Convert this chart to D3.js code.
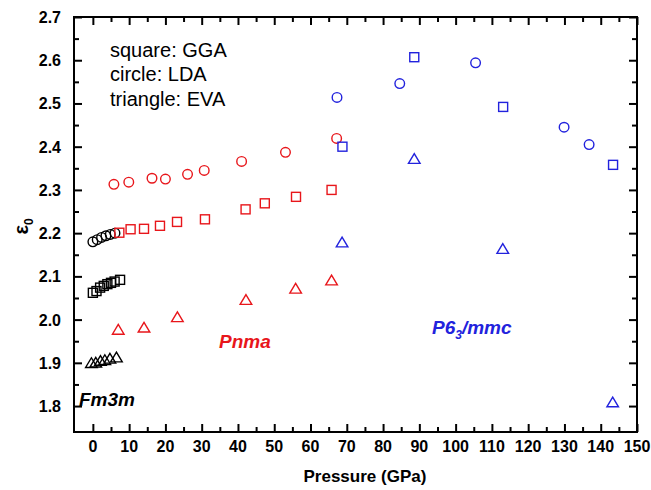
<!DOCTYPE html>
<html><head><meta charset="utf-8">
<script src="https://cdn.jsdelivr.net/npm/d3@7"></script>
<style>body{margin:0;background:#fff;} svg{display:block;} text{font-family:"Liberation Sans",Arial,Helvetica,sans-serif;}</style>
</head><body>
<svg id="c" width="651" height="490"></svg>
<script>
// ---- data ----
const fm3mLDA_P = [0, 1.2, 2.4, 3.6, 4.8, 6.1];
const fm3mLDA_E = [2.180, 2.185, 2.190, 2.194, 2.197, 2.200];
const fm3mGGA_P = [0, 1, 2, 3, 4, 5, 6, 7.5];
const fm3mGGA_E = [2.062, 2.066, 2.074, 2.078, 2.082, 2.085, 2.088, 2.092];
const fm3mEVA_P = [-0.4, 0.8, 2.1, 3.3, 4.7, 6.5];
const fm3mEVA_E = [1.899, 1.900, 1.904, 1.906, 1.909, 1.912];

const pnmaLDA_P = [5.8, 9.9, 16.3, 20.0, 26.1, 30.7, 41.0, 53.1, 67.2];
const pnmaLDA_E = [2.313, 2.318, 2.327, 2.325, 2.336, 2.345, 2.366, 2.387, 2.419];
const pnmaGGA_P = [7.3, 10.4, 14.1, 18.5, 23.2, 30.9, 42.1, 47.4, 56.0, 65.8];
const pnmaGGA_E = [2.201, 2.209, 2.210, 2.217, 2.226, 2.232, 2.255, 2.269, 2.284, 2.300];
const pnmaEVA_P = [7.0, 14.1, 23.3, 42.2, 55.9, 65.8];
const pnmaEVA_E = [1.976, 1.981, 2.005, 2.045, 2.071, 2.090];

const p63LDA_P = [67.3, 84.6, 105.5, 129.9, 136.8];
const p63LDA_E = [2.514, 2.546, 2.594, 2.445, 2.405];
const p63GGA_P = [68.8, 88.6, 113.1, 143.4];
const p63GGA_E = [2.400, 2.607, 2.492, 2.358];
const p63EVA_P = [68.7, 88.6, 113.0, 143.3];
const p63EVA_E = [2.178, 2.371, 2.163, 1.808];

const xTicks = [0,10,20,30,40,50,60,70,80,90,100,110,120,130,140,150];
const yTicks = [1.8,1.9,2.0,2.1,2.2,2.3,2.4,2.5,2.6,2.7];
const legendLines = ["square: GGA", "circle: LDA", "triangle: EVA"];
const xTitle = "Pressure (GPa)";

const RED = "#e8161b", BLUE = "#2222dd", BLACK = "#000";
const series = [
  {P: fm3mLDA_P, E: fm3mLDA_E, sym: "circle", color: BLACK},
  {P: fm3mGGA_P, E: fm3mGGA_E, sym: "square", color: BLACK},
  {P: fm3mEVA_P, E: fm3mEVA_E, sym: "triangle", color: BLACK},
  {P: pnmaLDA_P, E: pnmaLDA_E, sym: "circle", color: RED},
  {P: pnmaGGA_P, E: pnmaGGA_E, sym: "square", color: RED},
  {P: pnmaEVA_P, E: pnmaEVA_E, sym: "triangle", color: RED},
  {P: p63LDA_P, E: p63LDA_E, sym: "circle", color: BLUE},
  {P: p63GGA_P, E: p63GGA_E, sym: "square", color: BLUE},
  {P: p63EVA_P, E: p63EVA_E, sym: "triangle", color: BLUE}
];

// ---- layout ----
const L = 74, R = 637, T = 17, B = 432;
const x = d3.scaleLinear().domain([-5.2, 150]).range([L, R]);
const y = d3.scaleLinear().domain([1.74, 2.7]).range([B, T]);
const svg = d3.select("#c");

const xMinor = d3.range(5, 150, 10);
const yMinor = d3.range(1.85, 2.7, 0.1).map(v => +v.toFixed(2));

function tickGroup(axisGen, transform) {
  const g = svg.append("g").attr("transform", transform).call(axisGen);
  g.select(".domain").remove();
  g.selectAll("line").attr("stroke", "#000").attr("stroke-width", 2);
  return g;
}
// bottom
tickGroup(d3.axisTop(x).tickValues(xTicks).tickSize(8).tickFormat(""), `translate(0,${B})`);
tickGroup(d3.axisTop(x).tickValues(xMinor).tickSize(5).tickFormat(""), `translate(0,${B})`);
// top
tickGroup(d3.axisBottom(x).tickValues(xTicks).tickSize(8).tickFormat(""), `translate(0,${T})`);
tickGroup(d3.axisBottom(x).tickValues(xMinor).tickSize(5).tickFormat(""), `translate(0,${T})`);
// left
tickGroup(d3.axisRight(y).tickValues(yTicks).tickSize(8).tickFormat(""), `translate(${L},0)`);
tickGroup(d3.axisRight(y).tickValues(yMinor).tickSize(5).tickFormat(""), `translate(${L},0)`);
// right
tickGroup(d3.axisLeft(y).tickValues(yTicks).tickSize(8).tickFormat(""), `translate(${R},0)`);
tickGroup(d3.axisLeft(y).tickValues(yMinor).tickSize(5).tickFormat(""), `translate(${R},0)`);

// frame
svg.append("rect").attr("x", L).attr("y", T).attr("width", R - L).attr("height", B - T)
  .attr("fill", "none").attr("stroke", "#000").attr("stroke-width", 2);

// tick labels
svg.append("g").selectAll("text").data(xTicks).join("text")
  .attr("x", d => x(d)).attr("y", B + 20).attr("text-anchor", "middle")
  .attr("font-size", 16).attr("font-weight", "bold").text(d => d);
svg.append("g").selectAll("text").data(yTicks).join("text")
  .attr("x", L - 13).attr("y", d => y(d) + 6).attr("text-anchor", "end")
  .attr("font-size", 16).attr("font-weight", "bold").text(d => d.toFixed(1));

// axis titles
svg.append("text").attr("x", (x(0) + x(150)) / 2).attr("y", 482).attr("text-anchor", "middle")
  .attr("font-size", 17).attr("font-weight", "bold").text(xTitle);
const yt = svg.append("text").attr("transform", `translate(28,${(T + B) / 2 + 10}) rotate(-90)`)
  .attr("font-size", 20).attr("font-weight", "bold");
yt.append("tspan").text("ε");
yt.append("tspan").attr("font-size", 12).attr("dy", 5).text("0");

// markers
const plot = svg.append("g");
series.forEach(s => {
  const pts = s.P.map((p, i) => ({p, e: s.E[i]}));
  const g = plot.append("g").attr("fill", "none").attr("stroke", s.color).attr("stroke-width", 1.4);
  if (s.sym === "circle") {
    g.selectAll("circle").data(pts).join("circle")
      .attr("cx", d => x(d.p)).attr("cy", d => y(d.e)).attr("r", 4.8);
  } else if (s.sym === "square") {
    g.selectAll("rect").data(pts).join("rect")
      .attr("x", d => x(d.p) - 4.5).attr("y", d => y(d.e) - 4.5).attr("width", 9).attr("height", 9);
  } else {
    g.selectAll("path").data(pts).join("path")
      .attr("d", d => { const cx = x(d.p), cy = y(d.e);
        return `M${cx},${cy - 5.5}L${cx + 5.8},${cy + 4.2}L${cx - 5.8},${cy + 4.2}Z`; });
  }
});

// legend text
svg.append("g").selectAll("text").data(legendLines).join("text")
  .attr("x", 110).attr("y", (d, i) => 57 + i * 24.3).attr("font-size", 20).text(d => d);

// phase labels
svg.append("text").attr("x", 79).attr("y", 406).attr("font-size", 19).attr("font-weight", "bold")
  .attr("font-style", "italic").attr("fill", BLACK).text("Fm3m");
svg.append("text").attr("x", 219).attr("y", 348).attr("font-size", 19).attr("font-weight", "bold")
  .attr("font-style", "italic").attr("fill", RED).text("Pnma");
const p6 = svg.append("text").attr("x", 432).attr("y", 334).attr("font-size", 19).attr("font-weight", "bold")
  .attr("font-style", "italic").attr("fill", BLUE);
p6.append("tspan").text("P6");
p6.append("tspan").attr("font-size", 12).attr("dy", 5).text("3");
p6.append("tspan").attr("dy", -5).text("/mmc");
</script>
</body></html>
